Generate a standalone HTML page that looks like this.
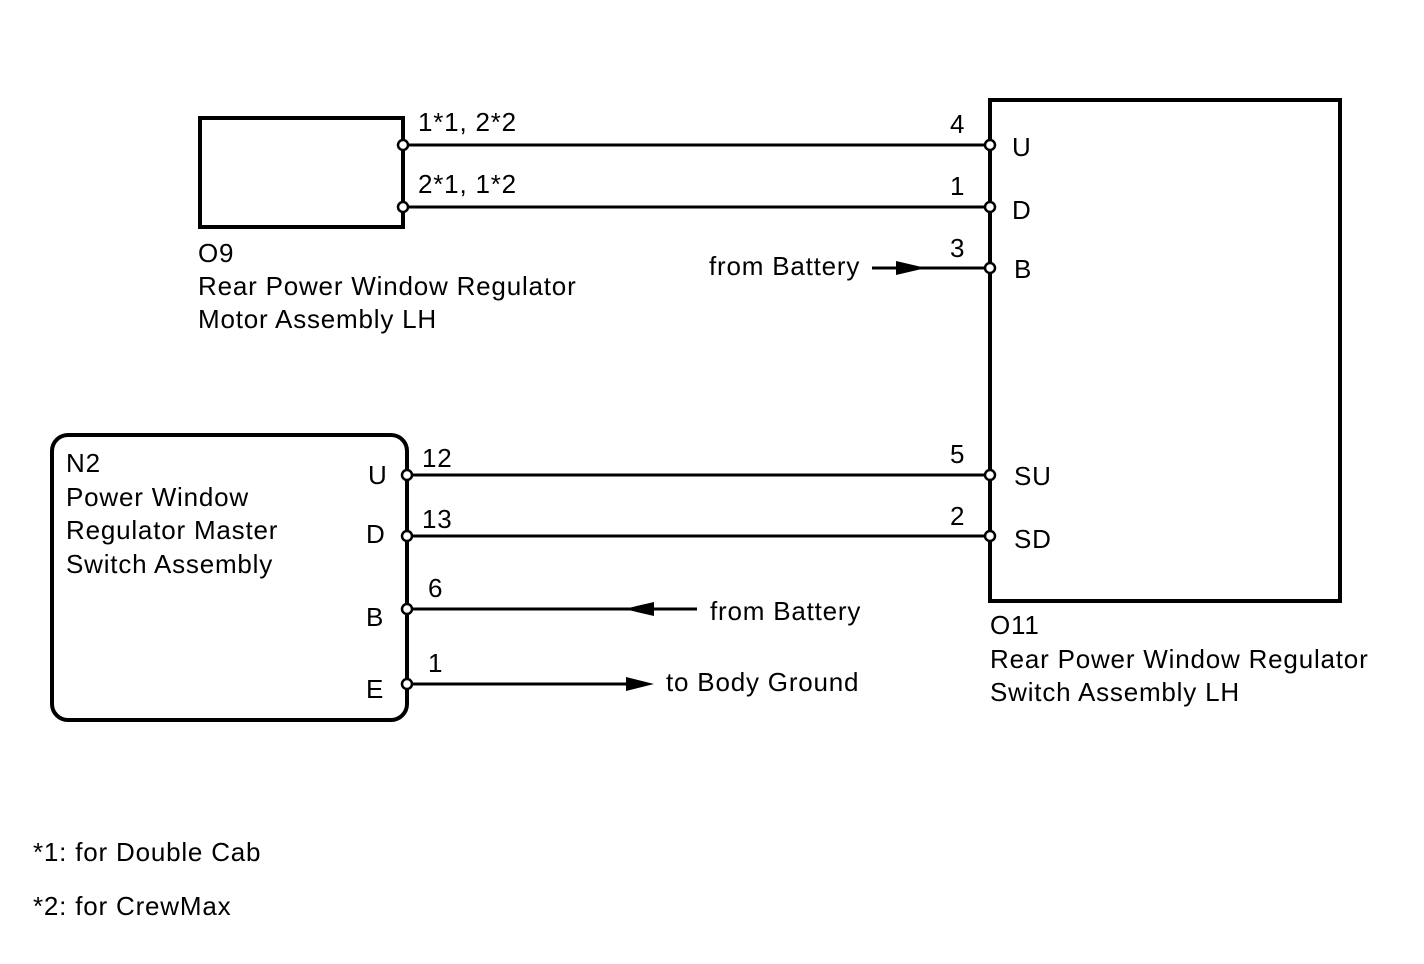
<!DOCTYPE html>
<html><head><meta charset="utf-8"><style>
html,body{margin:0;padding:0;background:#fff;}
svg text{font-family:"Liberation Sans",Arial,sans-serif;font-size:26px;letter-spacing:0.8px;fill:#000;}
</style></head><body>
<svg width="1424" height="959" viewBox="0 0 1424 959" xmlns="http://www.w3.org/2000/svg">
<g fill="none" stroke="#000">
<rect x="200" y="118" width="203" height="109" stroke-width="4"/>
<rect x="990" y="100" width="350" height="501" stroke-width="4"/>
<rect x="52" y="435" width="355" height="285" rx="16" stroke-width="4"/>
<g stroke-width="3">
<line x1="403" y1="145" x2="990" y2="145"/>
<line x1="403" y1="207" x2="990" y2="207"/>
<line x1="872" y1="268" x2="990" y2="268"/>
<line x1="407" y1="475" x2="990" y2="475"/>
<line x1="407" y1="536" x2="990" y2="536"/>
<line x1="407" y1="609" x2="697" y2="609"/>
<line x1="407" y1="684" x2="630" y2="684"/>
</g>
</g>
<g fill="#000">
<polygon points="896,261 926,268 896,275"/>
<polygon points="654,602 624,609 654,616"/>
<polygon points="626,677 654,684 626,691"/>
</g>
<g fill="#fff" stroke="#000" stroke-width="2.5">
<circle cx="403" cy="145" r="5"/><circle cx="403" cy="207" r="5"/>
<circle cx="990" cy="145" r="5"/><circle cx="990" cy="207" r="5"/><circle cx="990" cy="268" r="5"/>
<circle cx="990" cy="475" r="5"/><circle cx="990" cy="536" r="5"/>
<circle cx="407" cy="475" r="5"/><circle cx="407" cy="536" r="5"/><circle cx="407" cy="609" r="5"/><circle cx="407" cy="684" r="5"/>
</g>
<text x="418" y="131">1*1, 2*2</text>
<text x="418" y="193">2*1, 1*2</text>
<text x="950" y="133">4</text>
<text x="950" y="195">1</text>
<text x="950" y="257">3</text>
<text x="709" y="275">from Battery</text>
<text x="1012" y="156">U</text>
<text x="1012" y="219">D</text>
<text x="1014" y="278">B</text>
<text x="198" y="262">O9</text>
<text x="198" y="295">Rear Power Window Regulator</text>
<text x="198" y="328">Motor Assembly LH</text>
<text x="66" y="472">N2</text>
<text x="66" y="506">Power Window</text>
<text x="66" y="539">Regulator Master</text>
<text x="66" y="573">Switch Assembly</text>
<text x="368" y="484">U</text>
<text x="366" y="543">D</text>
<text x="366" y="626">B</text>
<text x="366" y="698">E</text>
<text x="422" y="467">12</text>
<text x="422" y="528">13</text>
<text x="428" y="597">6</text>
<text x="428" y="672">1</text>
<text x="950" y="463">5</text>
<text x="950" y="525">2</text>
<text x="1014" y="485">SU</text>
<text x="1014" y="548">SD</text>
<text x="710" y="620">from Battery</text>
<text x="666" y="691">to Body Ground</text>
<text x="990" y="634">O11</text>
<text x="990" y="668">Rear Power Window Regulator</text>
<text x="990" y="701">Switch Assembly LH</text>
<text x="33" y="861">*1: for Double Cab</text>
<text x="33" y="915">*2: for CrewMax</text>
</svg>
</body></html>
